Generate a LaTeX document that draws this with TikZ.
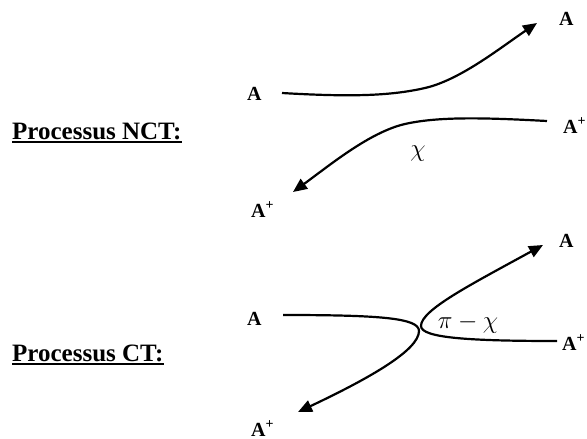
\documentclass[tikz,border=0pt]{standalone}
\usepackage{fontspec}
\setmainfont{Liberation Serif}
\usetikzlibrary{arrows.meta}
\tikzset{
  lab/.style={font=\fontsize{20}{20}\selectfont\bfseries, inner sep=0pt, anchor=base west},
  ttl/.style={font=\fontsize{25}{25}\selectfont\bfseries, inner sep=0pt, anchor=base west},
  traj/.style={line width=2.2pt},
  arr/.style={traj, -{Triangle[length=14pt,width=12pt]}},
  greek/.style={font=\fontsize{23}{23}\selectfont, inner sep=0pt},
  uline/.style={line width=1.8pt}
}
\begin{document}
\begin{tikzpicture}[x=1pt,y=-1pt]
\useasboundingbox (0,0) rectangle (587,439);

% ---------- NCT ----------
\node[ttl] (tN) at (12,139) {Processus NCT:};
\draw[uline] ([yshift=-3pt]tN.base west) -- ([yshift=-3pt]tN.base east);

\node[lab] (nA1) at (247,100) {A};
\node[lab] (nA2) at (559,25) {A};
\node[lab] (nB1) at (563,133) {A\textsuperscript{+}};
\node[lab] (nB2) at (251,217) {A\textsuperscript{+}};

\coordinate (n1s) at (282,93);
\coordinate (n1e) at (537,23);
\coordinate (n2s) at (547,121);
\coordinate (n2e) at (293,192);

\draw[arr] (n1s) .. controls (350,97) and (390,96) .. (425,88)
                 .. controls (460,80) and (500,48) .. (n1e);
\draw[arr] (n2s) .. controls (490,118) and (440,116) .. (405,124)
                 .. controls (370,132) and (330,165) .. (n2e);

\node[greek] (chi) at (418,154) {$\chi$};

% ---------- CT ----------
\node[ttl] (tC) at (12,361) {Processus CT:};
\draw[uline] ([yshift=-3pt]tC.base west) -- ([yshift=-3pt]tC.base east);

\node[lab] (cA1) at (247,325) {A};
\node[lab] (cA2) at (559,247) {A};
\node[lab] (cB1) at (562,350) {A\textsuperscript{+}};
\node[lab] (cB2) at (251,436) {A\textsuperscript{+}};

\coordinate (c1s) at (283,315);
\coordinate (c1v) at (419,331);
\coordinate (c1e) at (298,412);
\coordinate (c2s) at (557,341);
\coordinate (c2v) at (421,326);
\coordinate (c2e) at (543,245);

\draw[arr] (c1s) .. controls (380,315) and (419,318) .. (c1v)
                 .. controls (419,350) and (370,378) .. (c1e);
\draw[arr] (c2s) .. controls (470,341) and (421,338) .. (c2v)
                 .. controls (421,310) and (470,285) .. (c2e);

\node[greek] (pichi) at (468,324) {$\pi-\chi$};
\end{tikzpicture}
\end{document}
